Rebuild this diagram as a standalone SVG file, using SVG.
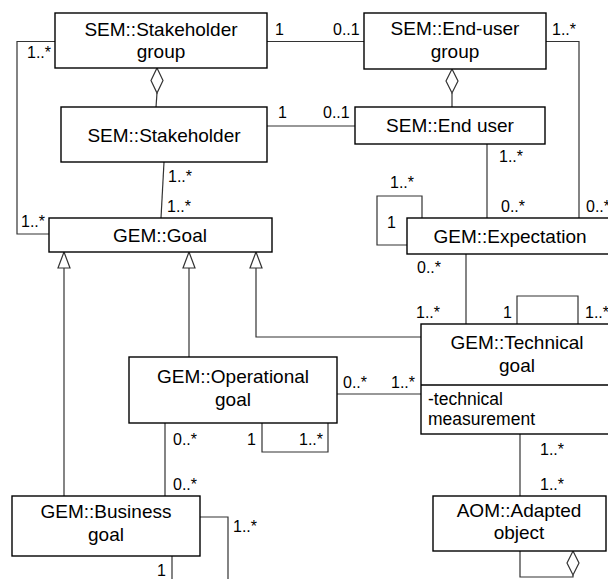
<svg xmlns="http://www.w3.org/2000/svg" width="608" height="579" viewBox="0 0 608 579">
  <style>
    .box { fill: #ffffff; stroke: #000000; stroke-width: 1.4; }
    .t { font-family: "Liberation Sans", Arial, sans-serif; font-size: 19px; fill: #000000; text-anchor: middle; }
    .attr { font-family: "Liberation Sans", Arial, sans-serif; font-size: 17.5px; fill: #000000; }
    .m { font-family: "Liberation Sans", Arial, sans-serif; font-size: 16px; fill: #000000; }
    .c { fill: none; stroke: #333333; stroke-width: 1.2; }
    .agg { fill: #ffffff; stroke: #333333; stroke-width: 1.2; }
  </style>

  <!-- connectors -->
  <g id="connectors">
    <!-- Stakeholder group to Goal -->
    <polyline class="c" points="55,41.5 17,41.5 17,234 49,234"/>
    <!-- Stakeholder group to End-user group -->
    <line class="c" x1="267" y1="41.5" x2="364" y2="41.5"/>
    <!-- End-user group to Expectation -->
    <polyline class="c" points="546,41.5 579,41.5 579,218"/>
    <!-- aggregation: stakeholder group / stakeholder -->
    <line class="c" x1="157" y1="93" x2="156" y2="107"/>
    <polygon class="agg" points="157,68 163,80.5 157,93 151,80.5"/>
    <!-- aggregation: end-user group / end user -->
    <line class="c" x1="452" y1="93" x2="452" y2="107"/>
    <polygon class="agg" points="452,69 458,81 452,93 446,81"/>
    <!-- Stakeholder to End user -->
    <line class="c" x1="267" y1="126" x2="355" y2="126"/>
    <!-- Stakeholder to Goal -->
    <line class="c" x1="164" y1="162" x2="161" y2="218"/>
    <!-- End user to Expectation -->
    <line class="c" x1="487" y1="144" x2="487" y2="218"/>
    <!-- Expectation self association -->
    <polyline class="c" points="422,218 422,196 377,196 377,245 407,245"/>
    <!-- Expectation to Technical goal -->
    <line class="c" x1="466" y1="254" x2="466" y2="324"/>
    <!-- Technical goal self association -->
    <polyline class="c" points="517,324 517,296 578,296 578,324"/>
    <!-- generalizations to Goal -->
    <line class="c" x1="64" y1="268" x2="64" y2="496"/>
    <polygon class="agg" points="64,252 70,268 58,268"/>
    <line class="c" x1="189" y1="268" x2="189" y2="357"/>
    <polygon class="agg" points="189,252 195,268 183,268"/>
    <polyline class="c" points="256,268 256,337 421,337"/>
    <polygon class="agg" points="256,252 262,268 250,268"/>
    <!-- Operational goal to Technical goal -->
    <line class="c" x1="337" y1="394" x2="421" y2="394"/>
    <!-- Operational goal to Business goal -->
    <line class="c" x1="165" y1="423" x2="165" y2="496"/>
    <!-- Operational goal self association -->
    <polyline class="c" points="262,423 262,452 328,452 328,423"/>
    <!-- Business goal self association -->
    <polyline class="c" points="200,517 228,517 228,579"/>
    <line class="c" x1="172" y1="556" x2="172" y2="579"/>
    <!-- Technical goal to Adapted object -->
    <line class="c" x1="520" y1="434" x2="520" y2="496"/>
    <!-- Adapted object self aggregation -->
    <polyline class="c" points="520,551 520,577 573,577 573,575"/>
    <polygon class="agg" points="573,551 579,563 573,575 567,563"/>
  </g>

  <!-- multiplicities -->
  <g id="multiplicities">
    <text class="m" x="27" y="58">1..*</text>
    <text class="m" x="275" y="35">1</text>
    <text class="m" x="333" y="35">0..1</text>
    <text class="m" x="552" y="35">1..*</text>
    <text class="m" x="278" y="118">1</text>
    <text class="m" x="323" y="118">0..1</text>
    <text class="m" x="168" y="182">1..*</text>
    <text class="m" x="167" y="212">1..*</text>
    <text class="m" x="21" y="227">1..*</text>
    <text class="m" x="499" y="162">1..*</text>
    <text class="m" x="390" y="188">1..*</text>
    <text class="m" x="387" y="228">1</text>
    <text class="m" x="501" y="212">0..*</text>
    <text class="m" x="586" y="212">0..*</text>
    <text class="m" x="417" y="273">0..*</text>
    <text class="m" x="416" y="318">1..*</text>
    <text class="m" x="503" y="318">1</text>
    <text class="m" x="585" y="318">1..*</text>
    <text class="m" x="343" y="388">0..*</text>
    <text class="m" x="391" y="388">1..*</text>
    <text class="m" x="173" y="445">0..*</text>
    <text class="m" x="247" y="445">1</text>
    <text class="m" x="299" y="445">1..*</text>
    <text class="m" x="173" y="490">0..*</text>
    <text class="m" x="233" y="532">1..*</text>
    <text class="m" x="157" y="576">1</text>
    <text class="m" x="540" y="455">1..*</text>
    <text class="m" x="540" y="490">1..*</text>
  </g>

  <!-- classes -->
  <g id="stakeholder-group">
    <rect class="box" x="55" y="13" width="212" height="55"/>
    <text class="t" x="161" y="36">SEM::Stakeholder</text>
    <text class="t" x="161" y="58">group</text>
  </g>
  <g id="end-user-group">
    <rect class="box" x="364" y="13" width="182" height="56"/>
    <text class="t" x="455" y="35">SEM::End-user</text>
    <text class="t" x="455" y="58">group</text>
  </g>
  <g id="stakeholder">
    <rect class="box" x="61" y="107" width="206" height="55"/>
    <text class="t" x="164" y="142">SEM::Stakeholder</text>
  </g>
  <g id="end-user">
    <rect class="box" x="355" y="107" width="190" height="37"/>
    <text class="t" x="450" y="132">SEM::End user</text>
  </g>
  <g id="goal">
    <rect class="box" x="49" y="218" width="223" height="34"/>
    <text class="t" x="160" y="242">GEM::Goal</text>
  </g>
  <g id="expectation">
    <rect class="box" x="407" y="218" width="206" height="36"/>
    <text class="t" x="510" y="243">GEM::Expectation</text>
  </g>
  <g id="technical-goal">
    <rect class="box" x="421" y="324" width="192" height="110"/>
    <line class="box" x1="421" y1="385" x2="613" y2="385"/>
    <text class="t" x="517" y="349">GEM::Technical</text>
    <text class="t" x="517" y="372">goal</text>
    <text class="attr" x="428" y="405">-technical</text>
    <text class="attr" x="428" y="425">measurement</text>
  </g>
  <g id="operational-goal">
    <rect class="box" x="129" y="357" width="208" height="66"/>
    <text class="t" x="233" y="383">GEM::Operational</text>
    <text class="t" x="233" y="406">goal</text>
  </g>
  <g id="business-goal">
    <rect class="box" x="12" y="496" width="188" height="60"/>
    <text class="t" x="106" y="518">GEM::Business</text>
    <text class="t" x="106" y="541">goal</text>
  </g>
  <g id="adapted-object">
    <rect class="box" x="433" y="496" width="173" height="55"/>
    <text class="t" x="519" y="517">AOM::Adapted</text>
    <text class="t" x="519" y="539">object</text>
  </g>
</svg>
